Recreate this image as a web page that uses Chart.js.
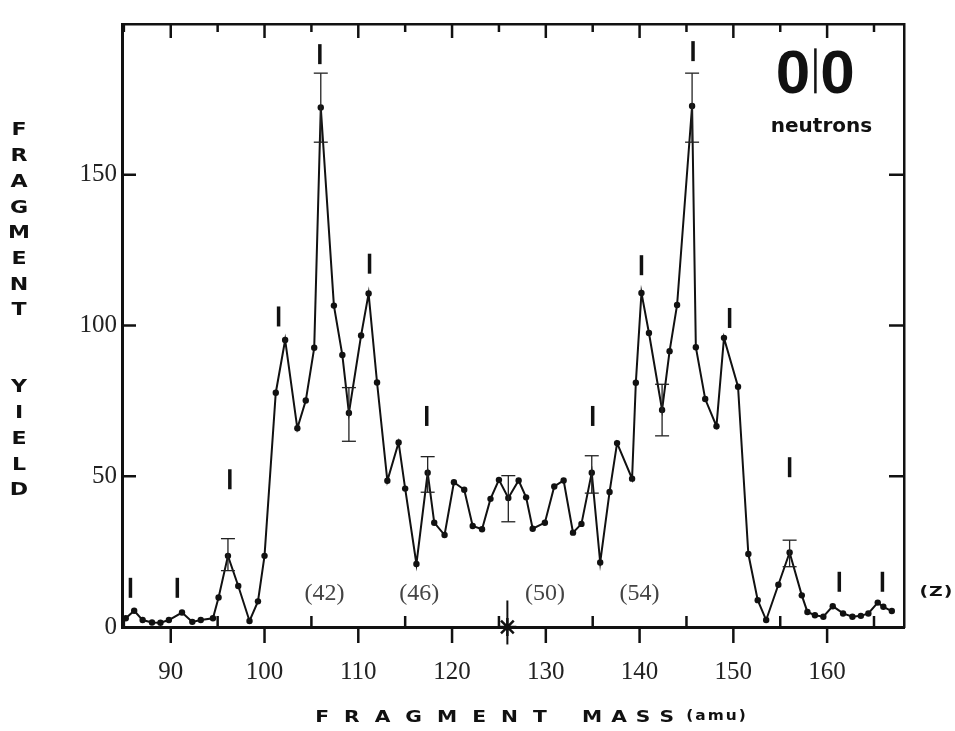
<!DOCTYPE html>
<html>
<head>
<meta charset="utf-8">
<script src="https://cdn.jsdelivr.net/npm/chart.js@4.4.0/dist/chart.umd.min.js"></script>
<style>
  html, body { margin: 0; padding: 0; background: #fff; }
</style>
</head>
<body>
<canvas id="chart" width="955" height="731"></canvas>
<script>
// --- data ---
const mass = [85.2, 86.1, 87.0, 88.0, 88.9, 89.8, 91.2, 92.3, 93.2, 94.5, 95.1,
  96.1, 97.2, 98.4, 99.3, 100.0, 101.2, 102.2, 103.5, 104.4, 105.3,
  106.0, 107.4, 108.3, 109.0, 110.3, 111.1, 112.0, 113.1, 114.3, 115.0,
  116.2, 117.4, 118.1, 119.2, 120.2, 121.3, 122.2, 123.2, 124.1, 125.0,
  126.0, 127.1, 127.9, 128.6, 129.9, 130.9, 131.9, 132.9, 133.8, 134.9,
  135.8, 136.8, 137.6, 139.2, 139.6, 140.2, 141.0, 142.4, 143.2, 144.0,
  145.6, 146.0, 147.0, 148.2, 149.0, 150.5, 151.6, 152.6, 153.5, 154.8,
  156.0, 157.3, 157.9, 158.7, 159.6, 160.6, 161.7, 162.7, 163.6, 164.4,
  165.4, 166.0, 166.9];
const yieldVals = [2.9, 5.4, 2.3, 1.5, 1.4, 2.3, 4.8, 1.7, 2.3, 2.9, 9.8,
  23.6, 13.6, 2.0, 8.5, 23.6, 77.7, 95.2, 65.9, 75.1, 92.6,
  172.3, 106.6, 90.2, 71.0, 96.7, 110.6, 81.1, 48.5, 61.2, 45.9,
  20.9, 51.2, 34.6, 30.5, 48.0, 45.5, 33.5, 32.4, 42.5, 48.8,
  42.8, 48.6, 43.0, 32.6, 34.6, 46.6, 48.6, 31.3, 34.2, 51.2,
  21.4, 44.8, 61.0, 49.2, 81.0, 110.8, 97.5, 72.0, 91.5, 106.8,
  172.8, 92.8, 75.6, 66.6, 95.9, 79.7, 24.2, 8.9, 2.3, 14.0,
  24.7, 10.5, 5.0, 3.9, 3.4, 6.9, 4.5, 3.4, 3.7, 4.5,
  8.1, 6.7, 5.3];

// error bars
const errMass = [96.1, 106.0, 109.0, 117.4, 126.0, 134.9, 142.4, 145.6, 156.0];
const errHi   = [29.3, 183.7, 79.4, 56.5, 50.2, 56.8, 80.5, 183.7, 28.8];
const errLo   = [18.7, 160.8, 61.6, 44.7, 34.9, 44.4, 63.4, 160.8, 20.0];

// short vertical Z markers
const zMass = [85.7, 90.7, 96.3, 101.5, 105.9, 111.2, 117.3, 135.0, 140.2, 145.7, 149.6, 156.0, 161.3, 165.9];
const zY    = [13, 13, 49, 103, 190, 120.5, 70, 70, 120, 191, 102.5, 53, 15, 15];

// charge labels
const zLabels = ['(42)', '(46)', '(50)', '(54)'];
const zLabelMass = [106.4, 116.5, 129.9, 140.0];
const zLabelY = 11.2;

const starMass = 125.9;

// axes
const xMin = 84.8, xMax = 168.2;
const yMin = 0, yMax = 200;
const xMajor = [90, 100, 110, 120, 130, 140, 150, 160];
const xMinor = [85, 95, 105, 115, 125, 135, 145, 155, 165];
const yTicks = [0, 50, 100, 150];

const INK = '#111';
const serif = '"Liberation Serif", "DejaVu Serif", serif';
const heavy = '"DejaVu Sans", "Liberation Sans", sans-serif';

// --- extra drawing: inward ticks, error bars, labels ---
function seg(ctx, x1, y1, x2, y2) {
  ctx.beginPath(); ctx.moveTo(x1, y1); ctx.lineTo(x2, y2); ctx.stroke();
}

function wideText(ctx, txt, cx, cy, font, sx, spacing) {
  // extended letters, drawn one by one
  ctx.save();
  ctx.font = font;
  ctx.textBaseline = 'middle';
  ctx.textAlign = 'left';
  const widths = [...txt].map(c => ctx.measureText(c).width * sx);
  const total = widths.reduce((s, w) => s + w, 0) + spacing * (txt.length - 1);
  let x = cx - total / 2;
  [...txt].forEach((c, i) => {
    ctx.save();
    ctx.translate(x, cy);
    ctx.scale(sx, 1);
    ctx.fillText(c, 0, 0);
    ctx.restore();
    x += widths[i] + spacing;
  });
  ctx.restore();
}

const decor = {
  id: 'decor',
  afterDatasetsDraw(chart) {
    const { ctx, chartArea: a, scales: { x, y } } = chart;
    ctx.save();
    ctx.strokeStyle = INK;
    ctx.fillStyle = INK;

    // bottom: majors out, minors in
    ctx.lineWidth = 2.5;
    xMajor.forEach(v => { const p = x.getPixelForValue(v); seg(ctx, p, a.bottom, p, a.bottom + 16); });
    xMinor.forEach(v => { const p = x.getPixelForValue(v); seg(ctx, p, a.bottom, p, a.bottom - 11); });
    // top: inward
    xMajor.forEach(v => { const p = x.getPixelForValue(v); seg(ctx, p, a.top, p, a.top + 14); });
    xMinor.forEach(v => { const p = x.getPixelForValue(v); if (v > xMin) seg(ctx, p, a.top, p, a.top + 8); });
    // left / right inward
    yTicks.filter(v => v > 0).forEach(v => {
      const p = y.getPixelForValue(v);
      seg(ctx, a.left, p, a.left + 14, p);
      seg(ctx, a.right, p, a.right - 15, p);
    });

    // error bars
    ctx.lineWidth = 1.3;
    ctx.strokeStyle = '#222';
    errMass.forEach((m, i) => {
      const px = x.getPixelForValue(m);
      const hi = y.getPixelForValue(errHi[i]);
      const lo = y.getPixelForValue(errLo[i]);
      seg(ctx, px, hi, px, lo);
      seg(ctx, px - 7, hi, px + 7, hi);
      seg(ctx, px - 7, lo, px + 7, lo);
    });

    // charge labels
    ctx.font = '24px ' + serif;
    ctx.fillStyle = '#444';
    ctx.textAlign = 'center';
    ctx.textBaseline = 'middle';
    zLabels.forEach((t, i) => ctx.fillText(t, x.getPixelForValue(zLabelMass[i]), y.getPixelForValue(zLabelY)));

    ctx.fillStyle = INK;
    wideText(ctx, '(Z)', x.getPixelForValue(171.6), y.getPixelForValue(11.5), 'bold 14px ' + heavy, 1.35, 1);

    // 0|0 neutrons
    ctx.font = 'bold 62px "Liberation Sans", Arial, sans-serif';
    ctx.textBaseline = 'alphabetic';
    ctx.textAlign = 'center';
    const nx = x.getPixelForValue(158.75), ny = y.getPixelForValue(177);
    ctx.fillText('0', nx - 22.5, ny);
    ctx.fillText('0', nx + 22, ny);
    ctx.lineWidth = 2.5;
    ctx.strokeStyle = INK;
    seg(ctx, nx, ny - 45, nx, ny);
    ctx.font = 'bold 20px ' + heavy;
    ctx.textBaseline = 'middle';
    ctx.fillText('neutrons', x.getPixelForValue(159.4), y.getPixelForValue(165.8));

    // y axis title, stacked letters
    const yTitle = 'FRAGMENT  YIELD';
    [...yTitle].forEach((c, i) => {
      if (c !== ' ') wideText(ctx, c, 19, 131 + i * 25.7, 'bold 17px ' + heavy, 1.3, 0);
    });

    // x axis title
    wideText(ctx, 'FRAGMENT', 431, 718, 'bold 15px ' + heavy, 1.35, 15);
    wideText(ctx, 'MASS', 628, 718, 'bold 15px ' + heavy, 1.35, 9);
    wideText(ctx, '(amu)', 716, 716, 'bold 14px ' + heavy, 1.1, 2);

    ctx.restore();
  }
};

const ctx = document.getElementById('chart').getContext('2d');
const chart = new Chart(ctx, {
  type: 'scatter',
  data: {
    datasets: [
      {
        data: mass.map((m, i) => ({ x: m, y: yieldVals[i] })),
        showLine: true,
        borderColor: INK,
        borderWidth: 2,
        pointRadius: 3.2,
        pointBackgroundColor: INK,
        pointBorderWidth: 0,
        tension: 0
      },
      {
        data: zMass.map((m, i) => ({ x: m, y: zY[i] })),
        pointStyle: 'line',
        rotation: 90,
        pointRadius: 10,
        borderWidth: 3.5,
        borderColor: INK
      },
      {
        data: [{ x: starMass, y: 0 }],
        pointStyle: 'star',
        pointRadius: 9,
        borderWidth: 2.5,
        borderColor: INK
      },
      {
        data: [{ x: starMass, y: 1.5 }],
        pointStyle: 'line',
        rotation: 90,
        pointRadius: 22,
        borderWidth: 2,
        borderColor: INK
      }
    ]
  },
  options: {
    responsive: false,
    animation: false,
    clip: false,
    layout: { padding: { top: 15, right: 51, left: 0, bottom: 0 } },
    plugins: { legend: { display: false }, tooltip: { enabled: false } },
    scales: {
      x: {
        type: 'linear', position: 'bottom', min: xMin, max: xMax,
        afterFit: s => { s.height = 104; },
        afterBuildTicks: s => { s.ticks = xMajor.map(v => ({ value: v })); },
        grid: { display: false, drawTicks: false },
        border: { display: true, width: 3, color: INK },
        ticks: { padding: 30, color: '#222', font: { family: serif, size: 25 }, maxRotation: 0, autoSkip: false }
      },
      y: {
        type: 'linear', position: 'left', min: yMin, max: yMax,
        afterFit: s => { s.width = 122; },
        afterBuildTicks: s => { s.ticks = yTicks.map(v => ({ value: v })); },
        grid: { display: false, drawTicks: false },
        border: { display: true, width: 3, color: INK },
        ticks: { padding: 5, color: '#222', font: { family: serif, size: 25 } }
      },
      xTop: {
        type: 'linear', position: 'top', min: xMin, max: xMax,
        afterFit: s => { s.height = 0; },
        grid: { display: false, drawTicks: false },
        border: { display: true, width: 2.5, color: INK },
        ticks: { display: false }
      },
      yRight: {
        type: 'linear', position: 'right', min: yMin, max: yMax,
        afterFit: s => { s.width = 0; },
        grid: { display: false, drawTicks: false },
        border: { display: true, width: 2.5, color: INK },
        ticks: { display: false }
      }
    }
  },
  plugins: [decor]
});
</script>
</body>
</html>
